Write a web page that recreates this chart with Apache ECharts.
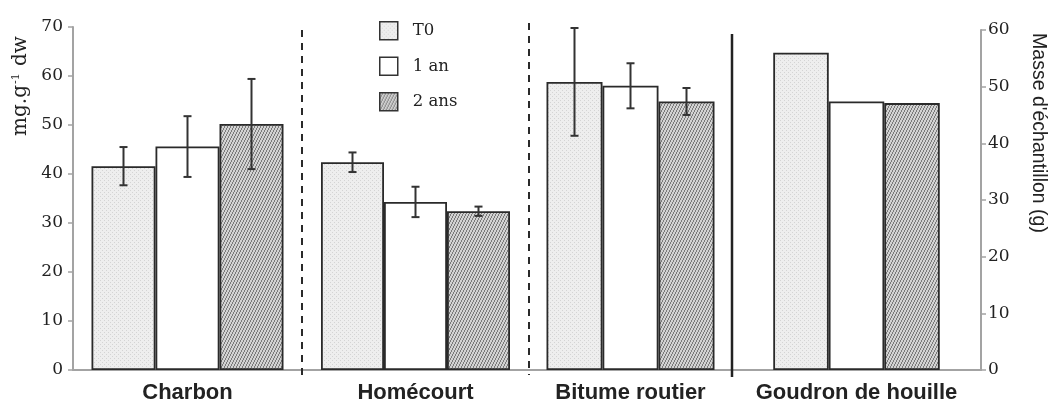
<!DOCTYPE html>
<html><head><meta charset="utf-8">
<script src="https://cdn.jsdelivr.net/npm/echarts@6/dist/echarts.min.js"></script>
<style>html,body{margin:0;padding:0;background:#fff}#c{width:1055px;height:405px}</style>
</head><body><div id="c"></div>
<script>
// Data (first three groups: mg.g-1 dw, left axis; Goudron de houille: sample mass (g), right axis)
const categories = ['Charbon', 'Homécourt', 'Bitume routier', 'Goudron de houille'];
const seriesNames = ['T0', '1 an', '2 ans'];
const t0 = [41.6, 42.4, 58.8, 56.0];
const an1 = [45.6, 34.3, 58.0, 47.4];
const ans2 = [50.2, 32.4, 54.8, 47.1];
const t0Err = [3.9, 2.0, 11.0, null];
const an1Err = [6.2, 3.1, 4.6, null];
const ans2Err = [9.2, 0.95, 2.75, null];
const leftTicks = {min: 0, max: 70, interval: 10};
const rightTicks = {min: 0, max: 60, interval: 10};

const values = [t0, an1, ans2];
const errs = [t0Err, an1Err, ans2Err];

function makePattern(kind) {
  const cv = document.createElement('canvas');
  if (kind === 'dots') {
    cv.width = 4; cv.height = 4;
    const g = cv.getContext('2d');
    g.fillStyle = '#eeeeee'; g.fillRect(0, 0, 4, 4);
    g.fillStyle = '#d4d4d4';
    g.fillRect(0, 0, 1, 1); g.fillRect(2, 2, 1, 1);
  } else {
    cv.width = 3; cv.height = 6;
    const g = cv.getContext('2d');
    g.fillStyle = '#d2d2d2'; g.fillRect(0, 0, 3, 6);
    g.fillStyle = '#7a7a7a';
    for (let y = 0; y < 6; y++) g.fillRect(Math.floor((5 - y) / 2), y, 1, 1);
  }
  return {image: cv, repeat: 'repeat'};
}
const fills = [makePattern('dots'), '#ffffff', makePattern('hatch')];

const gridBoxes = [
  {left: 73, width: 229, top: 27, bottom: 35},
  {left: 302, width: 227, top: 27, bottom: 35},
  {left: 529, width: 203, top: 27, bottom: 35},
  {left: 732, width: 249, top: 30, bottom: 35}
];
const barWidths = [64, 63, 56, 55.5];
const axisGrey = '#a3a3a3';
const serif = 'DejaVu Serif';
const sans = 'Liberation Sans';

const xAxes = categories.map((c, i) => ({
  type: 'category', gridIndex: i, data: [c],
  axisLine: {show: true, lineStyle: {color: axisGrey, width: 2}},
  axisTick: {show: false},
  axisLabel: {fontFamily: sans, fontWeight: 'bold', fontSize: 22, color: '#222', margin: 12}
}));

const yAxes = categories.map((c, i) => {
  const right = i === 3;
  const t = right ? rightTicks : leftTicks;
  const shown = i === 0 || right;
  return {
    type: 'value', gridIndex: i, min: t.min, max: t.max, interval: t.interval,
    position: right ? 'right' : 'left', show: shown,
    splitLine: {show: false},
    axisLine: {show: true, lineStyle: {color: axisGrey, width: 2}},
    axisTick: {show: true, inside: false, length: 5, lineStyle: {color: axisGrey, width: 1.5}},
    axisLabel: {fontFamily: serif, fontSize: 17, color: '#222', margin: right ? 7 : 10}
  };
});

const series = [];
categories.forEach((c, gi) => {
  seriesNames.forEach((name, k) => {
    series.push({
      type: 'bar', name: name, xAxisIndex: gi, yAxisIndex: gi,
      barWidth: barWidths[gi], barGap: '0%',
      data: [values[k][gi]],
      itemStyle: {color: fills[k], borderColor: '#2a2a2a', borderWidth: 1.8},
      emphasis: {disabled: true}, animation: false
    });
  });
  seriesNames.forEach((name, k) => {
    const e = errs[k][gi];
    if (e == null) return;
    const bw = barWidths[gi];
    series.push({
      type: 'custom', name: 'err-' + name, xAxisIndex: gi, yAxisIndex: gi, z: 5,
      data: [[0, values[k][gi], e]], animation: false,
      renderItem: function (params, api) {
        const v = api.value(1), d = api.value(2);
        const hi = api.coord([api.value(0), v + d]);
        const lo = api.coord([api.value(0), v - d]);
        const x = hi[0] + (k - 1) * bw;
        const cap = 4;
        const st = {stroke: '#333', lineWidth: 2};
        return {type: 'group', children: [
          {type: 'line', shape: {x1: x, y1: hi[1], x2: x, y2: lo[1]}, style: st},
          {type: 'line', shape: {x1: x - cap, y1: hi[1], x2: x + cap, y2: hi[1]}, style: st},
          {type: 'line', shape: {x1: x - cap, y1: lo[1], x2: x + cap, y2: lo[1]}, style: st}
        ]};
      }
    });
  });
});

const option = {
  backgroundColor: '#ffffff',
  animation: false,
  grid: gridBoxes,
  xAxis: xAxes,
  yAxis: yAxes,
  legend: {
    data: seriesNames, orient: 'vertical', left: 374, top: 16,
    itemWidth: 18, itemHeight: 18, itemGap: 16,
    icon: 'rect',
    itemStyle: {borderColor: '#333', borderWidth: 1.5},
    textStyle: {fontFamily: serif, fontSize: 16.5, color: '#222', padding: [0, 0, 0, 10]}
  },
  series: series,
  graphic: [
    {type: 'line', shape: {x1: 302, y1: 30, x2: 302, y2: 375}, style: {stroke: '#2a2a2a', lineWidth: 2, lineDash: [7, 6]}, z: 10},
    {type: 'line', shape: {x1: 529, y1: 23, x2: 529, y2: 375}, style: {stroke: '#2a2a2a', lineWidth: 2, lineDash: [7, 6]}, z: 10},
    {type: 'line', shape: {x1: 732, y1: 34, x2: 732, y2: 377}, style: {stroke: '#222', lineWidth: 2.5}, z: 10},
    {type: 'text', x: 21, y: 86, rotation: Math.PI / 2,
      style: {text: '{a|mg.g}{s|-1}{a| dw}', align: 'center', verticalAlign: 'middle',
        rich: {a: {fontFamily: serif, fontSize: 20, fill: '#222'},
               s: {fontFamily: serif, fontSize: 11, fill: '#222', verticalAlign: 'top', padding: [0, 1, 9, 1]}}}},
    {type: 'text', x: 1038, y: 133, rotation: -Math.PI / 2,
      style: {text: "Masse d'échantillon (g)", align: 'center', verticalAlign: 'middle',
        fontFamily: sans, fontSize: 19.5, fill: '#222'}}
  ]
};
const chart = echarts.init(document.getElementById('c'), null, {renderer: 'canvas'});
chart.setOption(option);
</script></body></html>
